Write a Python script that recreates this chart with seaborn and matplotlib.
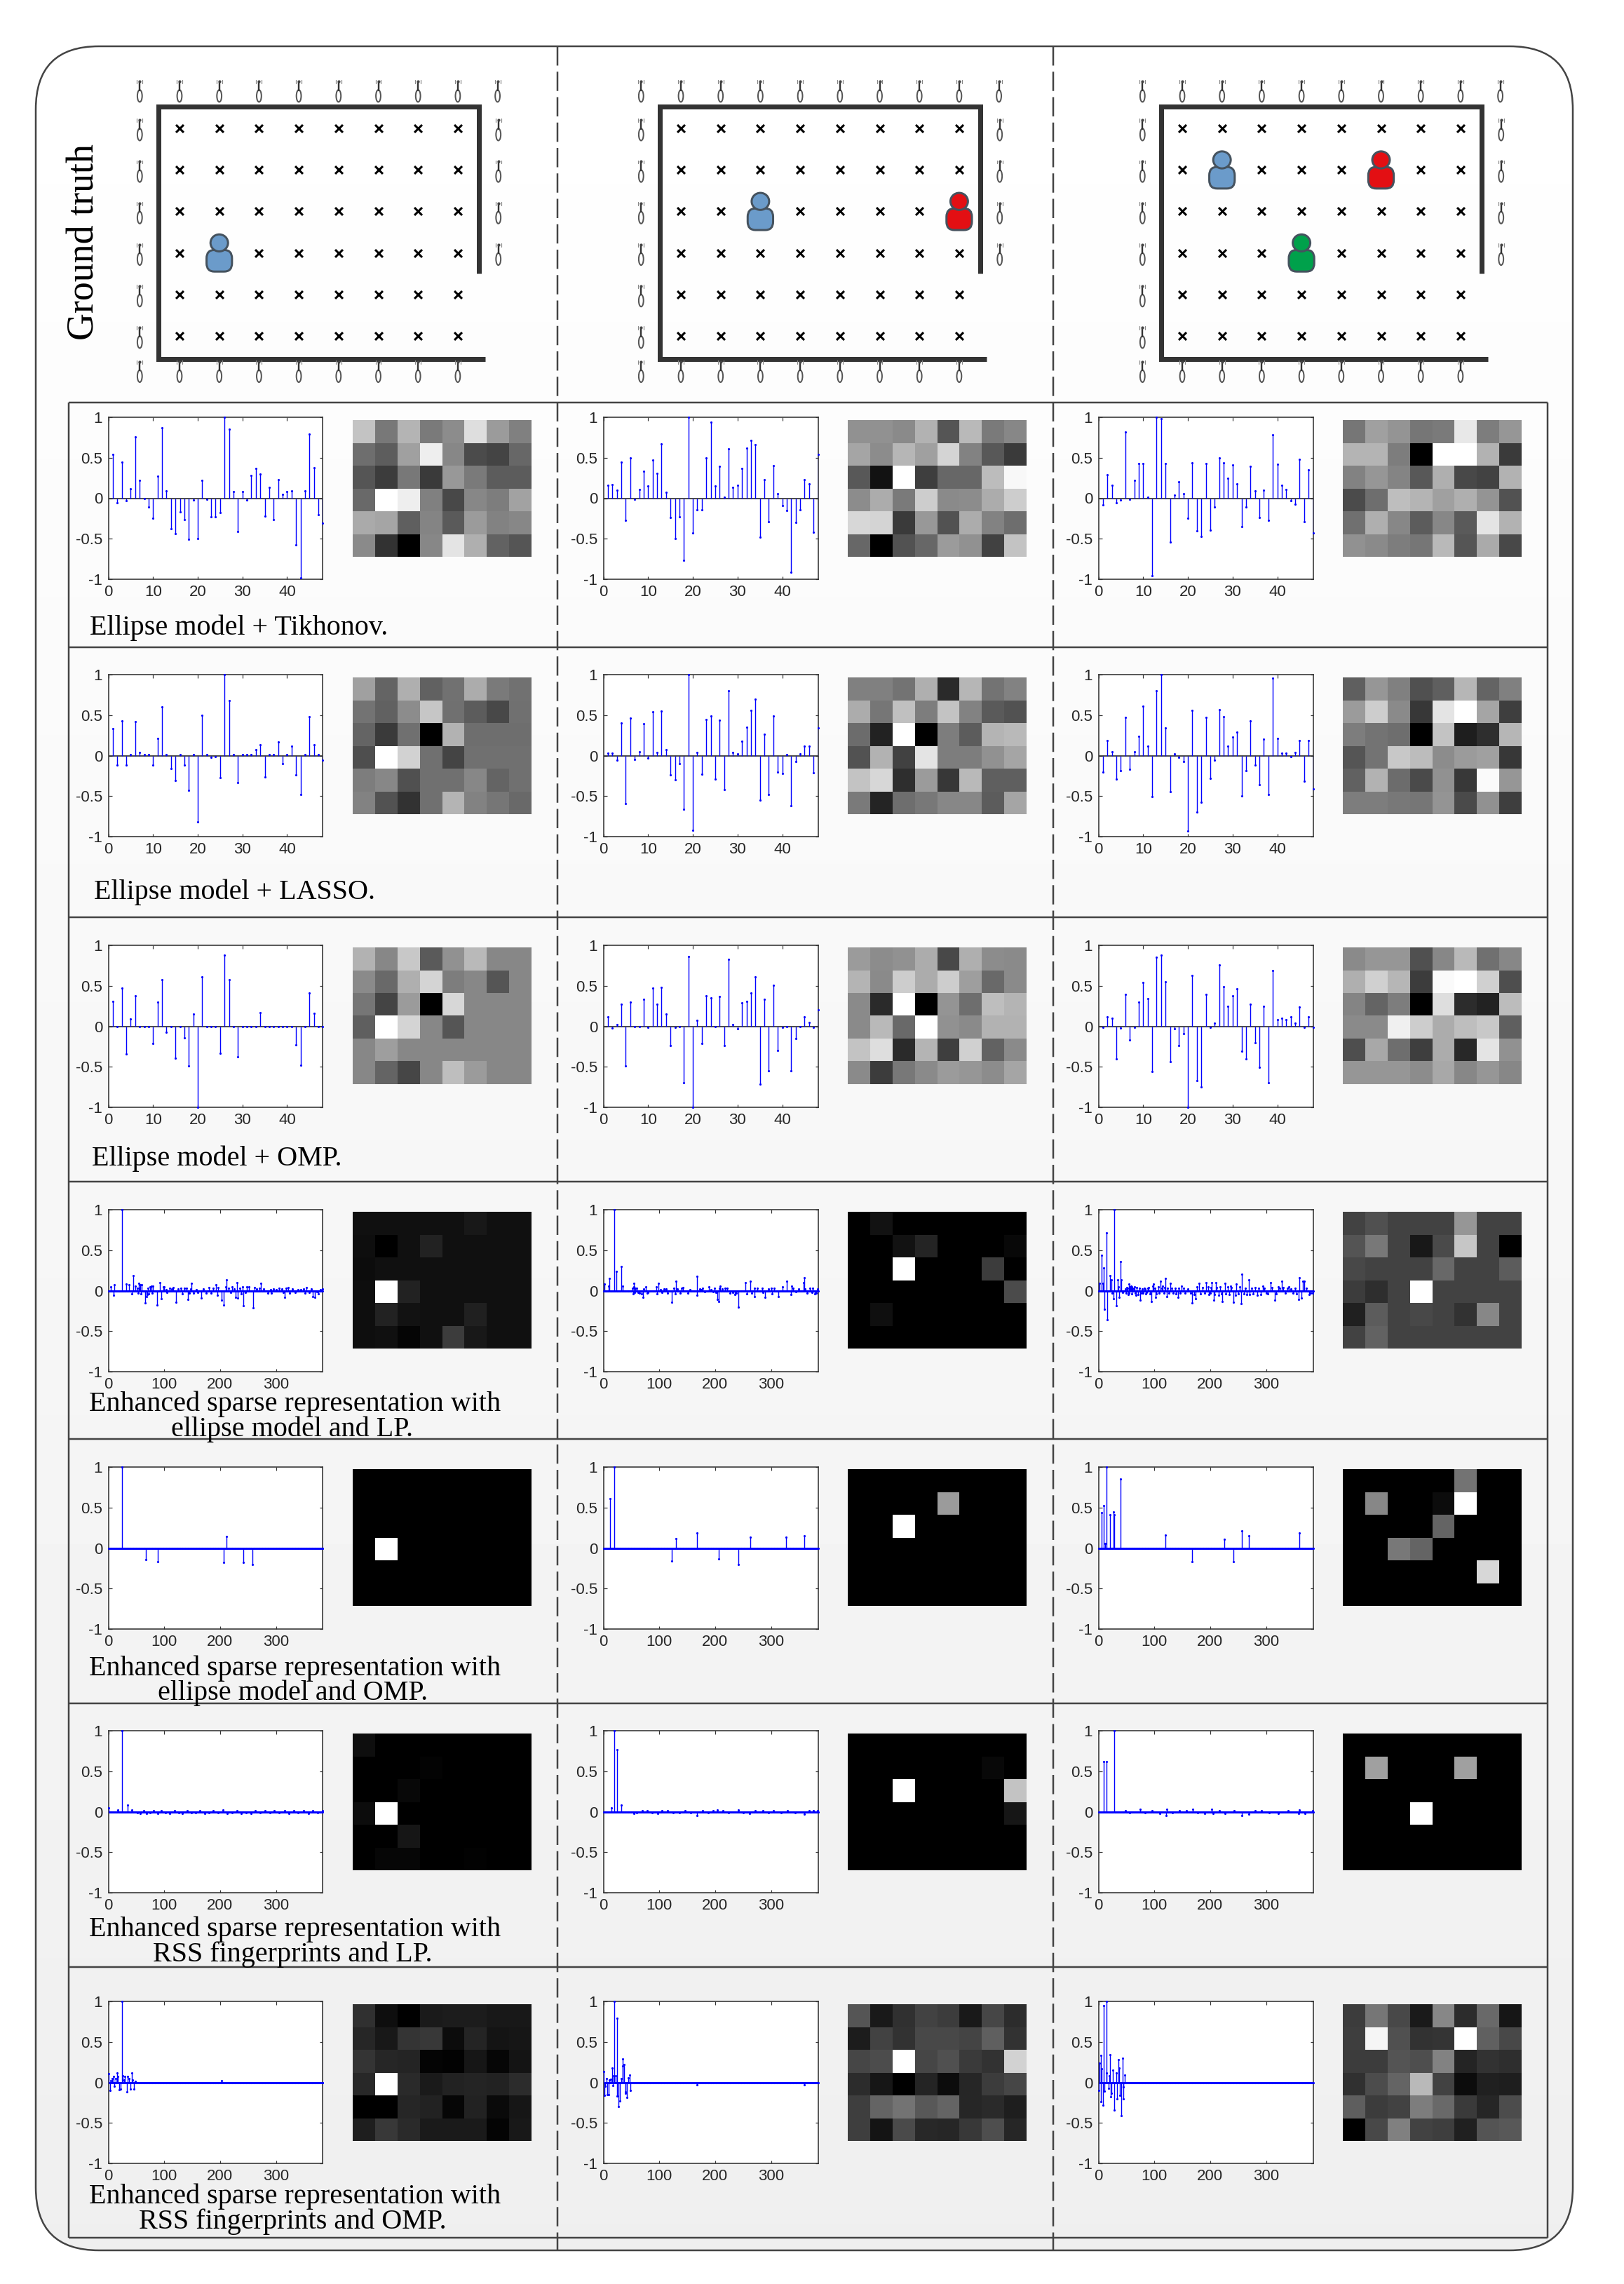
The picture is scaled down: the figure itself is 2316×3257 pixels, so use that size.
import numpy as np
import matplotlib
matplotlib.use('Agg')
import matplotlib.pyplot as plt
from matplotlib.patches import Ellipse, FancyBboxPatch
import seaborn as sns

# ---------- text ----------
captions = [
    ["Ellipse model + Tikhonov."],
    ["Ellipse model + LASSO."],
    ["Ellipse model + OMP."],
    ["Enhanced sparse representation with", "ellipse model and LP."],
    ["Enhanced sparse representation with", "ellipse model and OMP."],
    ["Enhanced sparse representation with", "RSS fingerprints and LP."],
    ["Enhanced sparse representation with", "RSS fingerprints and OMP."],
]

# ---------- ground truth: (column, row, colour name) of each person on the grid ----------
people_c1 = [(1, 3, 'blue')]
people_c2 = [(2, 2, 'blue'), (7, 2, 'red')]
people_c3 = [(1, 1, 'blue'), (5, 1, 'red'), (3, 3, 'green')]

# ---------- stem values, rows 1-3 have one value per index 1..48 ----------
stem_r1c1 = [.54,-.06,.45,-.03,.12,.76,.22,0,-.11,-.25,.27,.87,.09,-.38,-.44,-.17,-.26,-.51,-.02,-.5,.22,-.01,-.23,-.23,
             -.18,1,.85,.08,-.41,.08,-.02,.28,.37,.3,-.22,.13,-.26,.23,.05,.08,.09,-.58,-.98,.09,.79,.38,-.2,-.31]
stem_r1c2 = [.16,.17,.1,.45,-.27,.5,-.01,.11,.33,.15,.47,.31,.67,.07,-.24,-.5,-.23,-.77,1,-.43,-.14,-.14,.5,.94,
             .15,.39,.01,.61,.13,.16,.37,.62,.71,.66,-.48,.23,-.29,.4,.06,-.09,-.15,-.91,-.3,-.14,.23,.18,-.42,.54]
stem_r1c3 = [-.08,.29,.16,-.06,-.02,.82,-.01,.22,.43,.43,.01,-.96,1,.98,.43,-.54,.04,.2,.06,-.25,.44,-.4,-.47,.43,
             -.39,-.11,.5,.44,.25,.41,.18,-.35,-.11,.39,.09,-.24,.1,-.27,.78,.42,.16,.11,-.03,-.07,.48,-.29,.35,-.43]
stem_r2c1 = [.33,-.12,.43,-.12,.01,.42,.04,.01,.01,-.12,.21,.6,.01,-.16,-.31,.01,-.12,-.43,.01,-.82,.5,.01,-.02,-.01,
             -.27,1,.68,.01,-.33,.01,.01,.01,.07,.13,-.26,.01,.01,.17,-.1,.01,.12,-.24,-.48,.01,.48,.13,.01,-.06]
stem_r2c2 = [.03,.03,-.06,.4,-.59,.46,-.05,.05,.39,-.03,.54,.04,.55,.07,-.24,-.3,-.1,-.66,1,-.92,.04,-.23,.45,.49,
             -.29,.44,-.42,.8,.04,.02,.18,.35,.56,.7,-.55,.26,-.48,.49,-.2,-.22,.01,-.62,-.07,.02,.12,.12,-.21,.34]
stem_r2c3 = [-.2,.19,.05,-.29,-.19,.47,-.17,.05,.24,.61,.12,-.51,.8,1,.34,-.45,.02,-.02,-.07,-.93,.56,-.7,-.58,.47,
             -.28,-.06,.57,.48,.12,.23,.29,-.5,-.19,.43,-.12,-.36,.2,-.48,.96,.21,.03,.03,-.01,.04,.19,-.32,.19,-.41]
stem_r3c1 = [.31,0,.47,-.34,.09,.38,0,0,0,-.21,.3,.58,-.07,0,-.39,0,-.14,-.49,.15,-1,.61,0,0,0,
             -.33,.88,.58,0,-.38,0,0,0,0,.17,0,0,0,0,0,0,0,-.23,-.48,0,.41,.16,0,0]
stem_r3c2 = [.12,-.02,.02,.27,-.49,.3,0,0,.33,-.01,.47,.27,.48,.15,-.24,-.01,0,-.7,.86,-1,.07,-.21,.38,.35,
             0,.37,-.24,.83,.02,-.03,.29,.31,.41,.61,-.71,.33,-.55,.51,-.3,-.01,0,-.55,-.15,0,.12,.05,-.01,.2]
stem_r3c3 = [-.01,.12,.1,-.4,-.02,.39,-.17,-.01,.3,.54,.34,-.56,.85,.88,.55,-.44,-.03,-.24,-.09,-1,.63,-.67,-.75,.39,
             -.01,.04,.76,.49,.25,.38,.46,-.31,-.4,.27,-.2,-.51,.25,-.7,.69,.08,.1,.08,.12,.04,.24,-.01,.12,-.01]

# ---------- rows 4-7 have 384 indexes, most of them zero: nonzero index and value ----------
idx_r4c1 = [5,10,11,25,32,37,42,44,48,52,53,54,56,57,58,60,66,68,70,71,72,75,77,79,80,87,92,95,98,100,103,105,110,113,116,121,
            125,130,133,136,140,142,145,148,149,153,157,160,166,170,175,180,184,188,193,195,197,203,206,210,212,215,219,222,
            225,228,230,232,235,238,240,241,245,248,252,259,262,265,270,273,278,285,290,292,296,300,305,310,313,315,318,322,
            325,330,335,340,345,350,352,355,360,363,366,370,373,376,380,383]
val_r4c1 = [.05,-.06,.07,1,.08,.07,-.04,.19,.06,.03,-.03,.09,.03,.07,-.04,.07,-.15,-.07,-.05,.03,-.04,.05,.06,-.03,.06,-.18,.1,-.1,
            .05,.05,.01,-.02,.03,.02,.04,-.14,.02,.03,-.04,.03,.03,-.11,-.03,.02,.09,-.03,.01,-.02,-.09,.02,-.03,.04,-.03,.03,.07,
            -.06,.04,-.12,-.18,.05,.13,.03,-.02,.05,.02,-.08,.1,-.09,.03,-.04,.05,-.19,-.02,.05,.05,-.21,.04,.02,.03,.09,.02,-.03,
            .01,-.03,.02,.01,.03,.02,-.02,-.08,.03,.04,-.03,.02,-.02,.01,.01,.02,-.03,.04,-.02,.02,-.07,-.08,-.01,-.04,.01,.02]
idx_r4c2 = [2,10,11,19,23,32,34,52,53,54,55,56,57,60,62,65,68,71,72,76,78,80,95,96,99,102,105,108,112,115,122,126,129,130,133,137,
            140,143,151,155,167,168,172,175,178,181,189,192,196,199,202,204,206,208,209,213,218,222,226,231,235,238,241,254,256,
            263,266,270,271,276,284,286,289,295,300,302,306,313,321,328,336,337,340,345,350,358,359,361,365,370,373,375,378,381,383]
val_r4c2 = [.08,.06,.15,1,.24,.3,.06,.03,-.04,.05,.09,-.02,.03,.03,-.02,-.03,-.04,-.08,.02,.05,-.03,-.02,.05,-.04,.09,.01,-.02,.02,
            .02,-.03,-.14,.03,-.04,.12,.02,-.03,.03,.04,-.03,.01,.18,-.06,.02,.01,.03,-.01,.05,.01,-.01,.03,-.02,-.11,-.13,.03,.06,
            .02,.03,.03,-.03,-.02,-.05,-.03,-.2,.1,-.04,.12,-.03,.03,-.07,.03,.03,-.02,-.08,.02,.03,-.04,.03,-.07,.05,.12,-.05,.06,
            .03,-.01,.02,.1,.16,.02,-.03,.03,-.02,.03,-.04,-.03,.02]
idx_r4c3 = [2,6,8,10,11,14,16,21,23,25,27,28,32,34,36,37,39,41,43,48,50,52,54,55,57,58,60,63,66,75,78,80,83,86,95,99,102,111,115,120,
            122,129,142,149,168,174,180,193,200,203,206,210,222,226,236,242,247,255,257,269,271,284,294,308,315,322,328,341,358,
            359,363,366,368,377,383,
            51,53,56,59,61,64,67,69,71,73,77,82,85,88,90,92,97,101,104,107,109,113,117,119,124,126,131,134,137,139,144,146,152,155,
            160,165,171,176,183,186,190,196,198,201,208,212,215,218,220,228,231,234,238,245,250,253,260,263,266,274,277,281,287,
            290,297,300,303,311,318,325,331,335,338,344,348,352,355,372,380]
val_r4c3 = [.09,.44,.09,.28,-.23,.71,-.36,.19,.13,-.03,-.1,1,-.19,.13,.05,-.08,.36,.13,-.02,.02,-.03,.03,-.03,.08,.03,.06,.05,.02,-.03,
            -.12,.02,-.03,.02,-.02,-.13,.08,-.08,.12,.06,.15,-.07,.09,-.08,.06,-.15,-.1,.09,.1,-.03,.1,-.12,.1,-.13,.09,.06,-.14,.08,
            -.16,.2,.13,-.05,-.06,.06,.1,-.12,.05,.12,.05,-.11,.16,-.09,.12,.12,-.05,-.03,
            .04,-.05,.05,-.04,.03,.05,-.06,.04,-.05,.03,-.03,.03,-.04,.03,.04,-.04,.06,.03,-.04,.05,-.03,.03,-.03,.04,.03,-.03,.03,-.03,
            .03,-.04,.03,-.03,.03,-.03,.02,-.03,-.05,.05,-.04,.04,-.03,.05,-.05,.04,-.05,.04,-.06,.05,-.04,-.04,.05,-.05,.04,-.06,-.04,
            .05,-.04,.03,-.05,.03,-.04,.04,.03,-.05,.03,-.03,-.04,.04,-.04,.03,.04,-.03,.03,.02,-.03,.03,-.04,.03,-.03]

idx_r5c1 = [25,67,88,206,211,241,258]
val_r5c1 = [1,-.14,-.17,-.18,.14,-.18,-.2]
idx_r5c2 = [12,19,122,130,167,206,241,263,327,359]
val_r5c2 = [.61,1,-.16,.12,.19,-.13,-.2,.13,.13,.15]
idx_r5c3 = [6,10,12,14,21,27,28,39,120,168,225,241,257,269,359]
val_r5c3 = [.44,.52,.06,1,.41,.45,.41,.85,.16,-.17,.11,-.17,.21,.15,.19]

idx_r6c1 = [1,17,25,35,42,52,57,63,68,75,81,88,95,102,110,118,126,133,141,149,156,164,172,180,188,197,205,213,222,230,238,247,255,
            263,272,280,289,297,306,315,323,332,340,349,358,366,375,383]
val_r6c1 = [.05,.02,1,.08,.02,-.015,-.02,.01,-.02,-.01,.01,-.02,.01,-.015,-.02,.01,-.015,-.02,.01,-.01,-.015,.01,-.02,-.01,.01,-.015,
            .02,-.02,-.01,.01,-.02,-.01,-.02,.01,-.01,.01,-.015,.01,-.01,.01,-.02,.01,-.015,.01,-.02,.01,-.01,.01]
idx_r6c2 = [15,19,24,32,54,60,70,78,87,97,105,115,125,136,146,156,167,177,188,196,204,214,224,241,250,262,272,285,295,304,318,330,
            343,359,368,376,383]
val_r6c2 = [.05,1,.77,.08,-.02,-.015,.015,.01,-.015,-.02,.01,.01,-.015,-.01,.01,-.01,-.05,.01,-.01,.015,.02,.01,-.015,.02,-.01,-.02,
            .01,.01,-.01,.015,-.01,.01,-.015,-.03,.015,.015,.01]
idx_r6c3 = [10,14,28,48,56,75,84,96,110,121,122,132,145,158,169,178,190,203,205,216,227,243,257,269,280,292,305,322,340,358,359,370,383]
val_r6c3 = [.62,.62,1,.01,-.015,.03,-.01,.015,-.02,-.05,.03,-.015,.015,.01,.03,-.015,-.02,.03,-.02,.015,-.02,.01,-.05,-.03,.01,.015,
            -.01,-.02,.01,-.02,.02,-.025,.01]

idx_r7c1 = [1,3,5,7,9,11,13,16,17,20,22,25,26,28,30,33,34,37,39,42,43,46,48,203]
val_r7c1 = [.11,-.1,.02,.05,.07,-.05,.05,.12,.07,-.09,-.08,1,.08,.03,.07,-.12,.07,.05,-.08,.12,.03,-.08,.01,.02]
idx_r7c2 = [1,2,3,6,7,9,11,13,16,17,18,19,22,24,25,27,30,32,34,35,37,39,40,42,44,47,48,167,359]
val_r7c2 = [.13,-.16,-.05,.05,-.15,-.15,.03,.04,.18,-.04,.08,1,.08,.79,-.17,-.3,-.23,.05,.2,.29,.22,-.12,-.13,-.19,.06,.09,-.1,-.03,-.03]
idx_r7c3 = [1,2,4,5,6,8,10,11,14,15,18,19,21,22,23,26,28,32,33,36,37,38,41,43,44,45,47]
val_r7c3 = [-.1,.24,-.24,.33,.17,-.28,.95,-.11,1,.12,-.07,.08,.34,-.18,-.13,.15,-.34,.12,-.2,.28,.18,-.16,-.41,.3,-.06,-.2,.09]

# ---------- grey levels of the 6x8 maps, 0-255 ----------
heat_r1c1 = [[195,120,180,122,140,222,155,128],[110,93,160,238,135,75,68,103],[85,60,120,58,152,122,92,92],
             [105,255,238,128,72,135,125,162],[170,165,95,132,90,155,130,135],[138,50,0,135,228,175,98,85]]
heat_r1c2 = [[145,145,138,178,85,185,122,135],[165,140,182,160,212,130,88,58],[88,18,255,62,103,103,188,248],
             [140,172,122,205,138,140,172,205],[215,212,58,152,82,172,130,110],[103,0,82,103,155,145,65,195]]
heat_r1c3 = [[118,160,148,118,122,232,125,150],[180,180,125,0,255,255,178,58],[130,150,132,88,175,72,66,178],
             [75,110,190,180,160,175,148,82],[112,175,135,92,135,90,228,178],[145,138,125,118,185,85,170,72]]
heat_r2c1 = [[160,100,175,97,113,172,122,113],[115,97,140,198,112,92,72,112],[100,58,112,0,178,110,110,110],
             [78,255,210,112,68,112,112,112],[125,135,80,112,112,135,100,112],[130,82,50,112,180,130,118,105]]
heat_r2c2 = [[128,128,115,175,42,182,115,130],[172,118,192,125,195,130,90,82],[108,34,255,0,125,92,180,185],
             [82,178,65,228,125,125,145,165],[195,215,46,155,55,185,95,95],[122,36,110,120,135,135,92,165]]
heat_r2c3 = [[95,150,128,80,95,182,100,128],[155,205,138,55,228,255,165,62],[125,115,110,0,195,30,46,182],
             [85,115,200,188,140,155,160,55],[97,178,108,74,145,56,250,150],[125,125,120,118,148,74,145,62]]
heat_r3c1 = [[178,135,200,90,145,185,135,135],[138,105,175,212,125,135,85,135],[118,68,155,0,215,135,135,135],
             [95,255,212,135,85,135,135,135],[135,158,135,135,135,135,135,135],[135,100,70,135,190,155,135,135]]
heat_r3c2 = [[155,140,145,172,72,175,140,138],[180,138,205,172,205,158,105,138],[138,42,255,0,148,110,190,180],
             [138,185,105,255,145,138,178,178],[195,222,42,180,62,208,98,138],[138,60,120,138,155,150,140,165]]
heat_r3c3 = [[138,150,150,80,135,185,112,135],[175,208,182,60,250,255,208,78],[132,100,125,0,222,44,34,188],
             [138,138,240,205,172,190,200,95],[78,168,110,62,172,40,228,145],[150,150,150,140,168,135,150,135]]
heat_r4c1 = [[16,16,16,16,16,24,16,16],[14,0,16,34,16,16,16,16],[12,16,16,16,16,16,16,16],
             [14,255,34,16,16,16,16,16],[14,34,18,16,16,32,16,16],[14,16,5,16,60,24,16,16]]
heat_r4c2 = [[0,18,0,0,0,0,0,0],[0,0,18,36,0,0,0,8],[0,0,255,0,0,0,60,0],
             [0,0,0,0,0,0,0,75],[0,15,0,0,0,0,0,0],[0,0,0,0,0,0,0,0]]
heat_r4c3 = [[66,80,66,66,66,150,66,66],[84,120,66,24,74,198,66,0],[72,66,66,66,104,66,66,92],
             [60,46,66,255,66,66,66,66],[32,92,66,72,66,50,135,66],[66,98,66,66,66,66,66,66]]
heat_r5c1 = [[0,0,0,0,0,0,0,0],[0,0,0,0,0,0,0,0],[0,0,0,0,0,0,0,0],
             [0,255,0,0,0,0,0,0],[0,0,0,0,0,0,0,0],[0,0,0,0,0,0,0,0]]
heat_r5c2 = [[0,0,0,0,0,0,0,0],[0,0,0,0,155,0,0,0],[0,0,255,0,0,0,0,0],
             [0,0,0,0,0,0,0,0],[0,0,0,0,0,0,0,0],[0,0,0,0,0,0,0,0]]
heat_r5c3 = [[0,0,0,0,0,115,0,0],[0,135,0,0,12,255,0,0],[0,0,0,0,100,0,0,0],
             [0,0,120,100,0,0,0,0],[0,0,0,0,0,0,215,0],[0,0,0,0,0,0,0,0]]
heat_r6c1 = [[14,0,0,0,0,0,0,0],[0,0,0,3,0,0,0,0],[0,0,8,0,0,0,0,0],
             [12,255,0,0,0,0,0,0],[0,0,22,0,0,0,0,0],[0,6,6,0,0,2,0,0]]
heat_r6c2 = [[0,0,0,0,0,0,0,0],[0,0,0,0,0,0,8,0],[0,0,255,0,0,0,0,195],
             [0,0,0,0,0,0,0,22],[0,0,0,0,0,0,0,0],[0,0,0,0,0,0,0,0]]
heat_r6c3 = [[0,0,0,0,0,0,0,0],[0,160,0,0,0,160,0,0],[0,0,0,0,0,0,0,0],
             [0,0,0,255,0,0,0,0],[0,0,0,0,0,0,0,0],[0,0,0,0,0,0,0,0]]
heat_r7c1 = [[48,14,0,26,28,28,24,24],[38,24,52,56,12,36,20,22],[52,38,36,4,2,22,6,20],
             [40,255,42,26,34,36,34,44],[0,0,38,34,6,34,10,22],[30,56,42,26,26,26,4,24]]
heat_r7c2 = [[85,25,48,66,60,25,70,44],[28,66,50,72,72,68,95,50],[70,76,255,70,80,58,50,210],
             [44,22,0,36,12,38,60,70],[62,100,115,88,100,38,42,30],[62,20,74,40,38,56,78,38]]
heat_r7c3 = [[60,118,72,26,135,44,105,22],[62,245,80,50,52,255,96,72],[60,60,84,78,130,36,50,46],
             [48,76,100,185,66,12,32,30],[94,60,66,125,105,58,38,76],[0,72,128,66,62,32,84,88]]

dense_stems = [stem_r1c1, stem_r1c2, stem_r1c3, stem_r2c1, stem_r2c2, stem_r2c3, stem_r3c1, stem_r3c2, stem_r3c3]
sparse_stems = [(idx_r4c1, val_r4c1), (idx_r4c2, val_r4c2), (idx_r4c3, val_r4c3),
                (idx_r5c1, val_r5c1), (idx_r5c2, val_r5c2), (idx_r5c3, val_r5c3),
                (idx_r6c1, val_r6c1), (idx_r6c2, val_r6c2), (idx_r6c3, val_r6c3),
                (idx_r7c1, val_r7c1), (idx_r7c2, val_r7c2), (idx_r7c3, val_r7c3)]
heats = [heat_r1c1, heat_r1c2, heat_r1c3, heat_r2c1, heat_r2c2, heat_r2c3, heat_r3c1, heat_r3c2, heat_r3c3,
         heat_r4c1, heat_r4c2, heat_r4c3, heat_r5c1, heat_r5c2, heat_r5c3, heat_r6c1, heat_r6c2, heat_r6c3,
         heat_r7c1, heat_r7c2, heat_r7c3]

# ---------- layout, in pixels of the 2316x3257 picture ----------
W, H = 2316, 3257
PX = 0.72  # points per pixel at dpi=100
row_lines = [574, 923, 1308, 1685, 2052, 2429, 2805, 3191]
ax_tops = [595, 962, 1348, 1725, 2092, 2468, 2854]
heat_tops = [599, 966, 1351, 1728, 2095, 2472, 2858]
ax_lefts = [154.5, 860.5, 1566.5]
heat_lefts = [503, 1209, 1915]
AX_W, AX_H, HEAT_W, HEAT_H = 306, 231, 255, 195
caption_pos = [[(128, 905)], [(134, 1282)], [(131, 1662)],
               [(127, 2012), (244, 2048)], [(127, 2389), (225, 2424)],
               [(127, 2761), (218, 2797)], [(127, 3142), (198, 3178)]]
person_colors = {'blue': '#6b9bca', 'red': '#e30f13', 'green': '#00a14b'}
DARK = '#444444'

sns.set_theme(style='white')
plt.rcParams['font.family'] = ['Liberation Sans', 'DejaVu Sans']
plt.rcParams['axes.unicode_minus'] = False

fig = plt.figure(figsize=(W / 100, H / 100), dpi=100, facecolor='white')


def px_axes(x0, y0, x1, y1, zorder=2):
    return fig.add_axes([x0 / W, 1 - y1 / H, (x1 - x0) / W, (y1 - y0) / H], zorder=zorder)


# frame, gradient and separators
frame = px_axes(0, 0, W, H, zorder=0)
frame.set_xlim(0, W)
frame.set_ylim(H, 0)
frame.axis('off')
outline = FancyBboxPatch((51 + 90, 66 + 90), 2192 - 180, 3143 - 180, boxstyle='round,pad=90,rounding_size=90',
                         fc='none', ec=DARK, lw=2.5 * PX, zorder=3)
frame.add_patch(outline)
grad = np.linspace(1.0, 0.937, 256).reshape(-1, 1)
im = frame.imshow(grad, extent=(51, 2243, 3209, 66), cmap='gray', vmin=0, vmax=1, aspect='auto', zorder=1)
im.set_clip_path(outline)
frame.set_xlim(0, W)
frame.set_ylim(H, 0)
frame.hlines(row_lines, 98, 2207, color=DARK, lw=2.5 * PX, zorder=2)
frame.vlines([98, 2207], row_lines[0], row_lines[-1], color=DARK, lw=2.5 * PX, zorder=2)
frame.vlines([795, 1502], 66, 3209, color=DARK, lw=2.5 * PX, linestyles=[(0, (11, 3.5))], zorder=2)
frame.text(120, 345, 'Ground truth', family='Liberation Serif', fontsize=38.8, rotation=90,
           ha='center', va='center', color='black', zorder=4)
for lines, spots in zip(captions, caption_pos):
    for line, (tx, ty) in zip(lines, spots):
        frame.text(tx, ty, line, family='Liberation Serif', fontsize=28.9, ha='left', va='baseline',
                   color='black', zorder=4)


def draw_antenna(ax, c, r):
    ax.add_patch(Ellipse((c, r + .1), .12, .29, fc='white', ec='#555555', lw=2 * PX))
    ax.plot([c, c], [r - .24, r - .04], color='#333333', lw=2.4 * PX)
    ax.plot([c], [r - .25], marker='o', ms=3, color='#444444', mew=0)
    ax.plot([c - .07, c - .07], [r - .28, r - .2], color='#888888', lw=1.2 * PX)
    ax.plot([c + .07, c + .07], [r - .28, r - .2], color='#888888', lw=1.2 * PX)


def draw_person(ax, c, r, name):
    col = person_colors[name]
    ax.add_patch(FancyBboxPatch((c - .2, r + .05), .4, .28, boxstyle='round,pad=.12,rounding_size=.2',
                                fc=col, ec='#45525e', lw=3 * PX, zorder=4))
    ax.add_patch(Ellipse((c, r - .24), .44, .41, fc=col, ec='#45525e', lw=3 * PX, zorder=5))


# ground truth grids: one unit is one cross spacing
for k, people in enumerate([people_c1, people_c2, people_c3]):
    shift = 715 * k
    gt = px_axes(170 + shift, 100, 740 + shift, 560)
    gt.patch.set_visible(False)
    gt.axis('off')
    taken = {(p[0], p[1]) for p in people}
    cross_c = [c for c in range(8) for r in range(6) if (c, r) not in taken]
    cross_r = [r for c in range(8) for r in range(6) if (c, r) not in taken]
    sns.scatterplot(x=cross_c, y=cross_r, marker='x', s=62, color='black', linewidth=2.2, ax=gt, legend=False)
    gt.set_xlim((170 - 256) / 56.7, (740 - 256) / 56.7)
    gt.set_ylim((560 - 183) / 59.2, (100 - 183) / 59.2)
    gt.plot([7.69, -.53, -.53, 7.53, 7.53], [5.55, 5.55, -.52, -.52, 3.5], color='#333333', lw=7 * PX,
            solid_joinstyle='miter', solid_capstyle='butt')
    for c in range(-1, 9):
        draw_antenna(gt, c, -.88)
    for c in range(-1, 8):
        draw_antenna(gt, c, 5.87)
    for r in range(6):
        draw_antenna(gt, -1, r + .05)
    for r in range(4):
        draw_antenna(gt, 8.02, r + .05)
    for c, r, name in people:
        draw_person(gt, c, r, name)


def draw_stems(ax, x, y, sparse):
    x = np.asarray(x)
    y = np.asarray(y, dtype=float)
    if sparse:
        ax.axhline(0, color='blue', lw=2.6 * PX, zorder=2)
    else:
        ax.axhline(0, color='#222222', lw=1.6 * PX, zorder=2)
    ax.vlines(x, 0, y, color='blue', lw=1.4 * PX, zorder=3)
    sns.scatterplot(x=x, y=y, s=5, color='blue', linewidth=0, ax=ax, legend=False, zorder=4, clip_on=False)


# the 7x3 panels
for row in range(7):
    for col in range(3):
        x0, y0 = ax_lefts[col], ax_tops[row]
        ax = px_axes(x0, y0, x0 + AX_W, y0 + AX_H)
        ax.set_facecolor('white')
        if row < 3:
            xs = np.arange(1, 49)
            draw_stems(ax, xs, dense_stems[row * 3 + col], False)
            ax.set_xlim(0, 48)
            ax.set_xticks([0, 10, 20, 30, 40])
        else:
            idx, val = sparse_stems[(row - 3) * 3 + col]
            xs = np.arange(1, 385)
            ys = np.zeros(384)
            ys[np.asarray(idx) - 1] = val
            draw_stems(ax, xs, ys, True)
            ax.set_xlim(0, 384)
            ax.set_xticks([0, 100, 200, 300])
        ax.set_ylim(-1, 1)
        ax.set_yticks([-1, -.5, 0, .5, 1])
        ax.set_yticklabels(['-1', '-0.5', '0', '0.5', '1'])
        ax.tick_params(direction='in', length=4.5 * PX, width=1.2 * PX, top=True, right=True, bottom=True, left=True,
                       labelsize=16, labelcolor='#262626', color='#333333', pad=6)
        ax.set_xlabel('')
        ax.set_ylabel('')
        for sp in ax.spines.values():
            sp.set_visible(True)
            sp.set_color('#333333')
            sp.set_linewidth(1.6 * PX)

        hx, hy = heat_lefts[col], heat_tops[row]
        hax = px_axes(hx, hy, hx + HEAT_W, hy + HEAT_H)
        sns.heatmap(np.array(heats[row * 3 + col]), cmap='gray', vmin=0, vmax=255, cbar=False,
                    xticklabels=False, yticklabels=False, ax=hax)

fig.savefig('out.png', dpi=100, facecolor='white')
